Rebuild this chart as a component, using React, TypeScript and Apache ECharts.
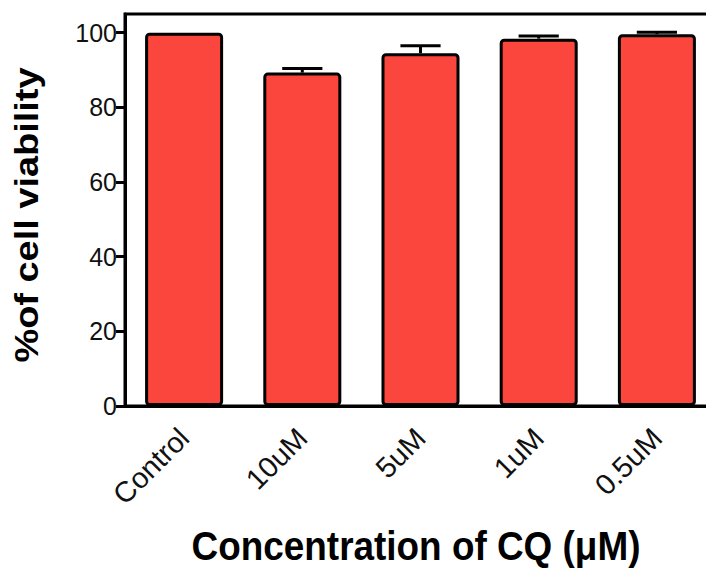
import React, { useEffect, useRef } from "react";
import * as echarts from "echarts";

const categories = ["Control", "10uM", "5uM", "1uM", "0.5uM"];
const means = [100, 89.3, 94.5, 98.4, 99.6];
const errors = [0, 1.1, 2.0, 0.7, 0.5];
const yTicks = [0, 20, 40, 60, 80, 100];
const xTitle = "Concentration of CQ (\u03bcM)";
const yTitle = "%of cell viability";

const FONT = '"Liberation Sans", Arial, sans-serif';

export default function App() {
  const ref = useRef<HTMLDivElement>(null);
  useEffect(() => {
    if (!ref.current) return;
    const chart = echarts.init(ref.current, null, { renderer: "svg" });
    const errData = categories.map((c, i) => [i, means[i], errors[i]]);
    chart.setOption({
      animation: false,
      backgroundColor: "#ffffff",
      grid: {
        left: 125,
        top: 14,
        right: 0,
        bottom: 164,
        show: true,
        borderColor: "#000",
        borderWidth: 3,
        backgroundColor: "transparent",
      },
      graphic: [
        {
          type: "text",
          x: 416,
          y: 546,
          scaleX: 0.9,
          style: {
            text: xTitle,
            fontFamily: FONT,
            fontWeight: "bold",
            fontSize: 41,
            fill: "#000",
            align: "center",
            verticalAlign: "middle",
          },
        },
        {
          type: "text",
          x: 27,
          y: 215,
          rotation: Math.PI / 2,
          scaleX: 1.15,
          style: {
            text: yTitle,
            fontFamily: FONT,
            fontWeight: "bold",
            fontSize: 33,
            fill: "#000",
            align: "center",
            verticalAlign: "middle",
          },
        },
      ],
      xAxis: {
        type: "category",
        data: categories,
        axisLine: { lineStyle: { color: "#000", width: 3 } },
        axisTick: { alignWithLabel: true, length: 9, lineStyle: { color: "#000", width: 3 } },
        axisLabel: { rotate: 45, fontFamily: FONT, fontSize: 29, color: "#111", margin: 27 },
      },
      yAxis: {
        type: "value",
        min: 0,
        max: 105,
        interval: 20,
        splitLine: { show: false },
        axisLine: { show: true, lineStyle: { color: "#000", width: 3 } },
        axisTick: { show: true, length: 9, customValues: yTicks, lineStyle: { color: "#000", width: 3 } },
        axisLabel: { customValues: yTicks, fontFamily: FONT, fontSize: 25, color: "#111", margin: 8 },
      },
      series: [
        {
          type: "bar",
          data: means,
          barWidth: "66%",
          itemStyle: { color: "#FA463D", borderColor: "#000", borderWidth: 3, borderRadius: 3 },
          z: 2,
        },
        {
          type: "custom",
          data: errData,
          z: 3,
          renderItem: (params: any, api: any) => {
            const i = api.value(0);
            const m = api.value(1);
            const e = api.value(2);
            if (!e) return null;
            const base = api.coord([i, m]);
            const top = api.coord([i, m + e]);
            const bw = (api.size([1, 0])[0] as number) * 0.34;
            const st = { stroke: "#000", lineWidth: 3 };
            return {
              type: "group",
              children: [
                { type: "line", shape: { x1: base[0], y1: base[1], x2: top[0], y2: top[1] }, style: st },
                { type: "line", shape: { x1: top[0] - bw / 2, y1: top[1], x2: top[0] + bw / 2, y2: top[1] }, style: st },
              ],
            };
          },
        },
      ],
    });
    return () => chart.dispose();
  }, []);
  return (
    <div
      style={{ position: "fixed", left: 0, top: 0, width: 706, height: 570, overflow: "hidden", background: "#fff" }}
    >
      <div ref={ref} style={{ width: 716, height: 570 }} />
    </div>
  );
}
